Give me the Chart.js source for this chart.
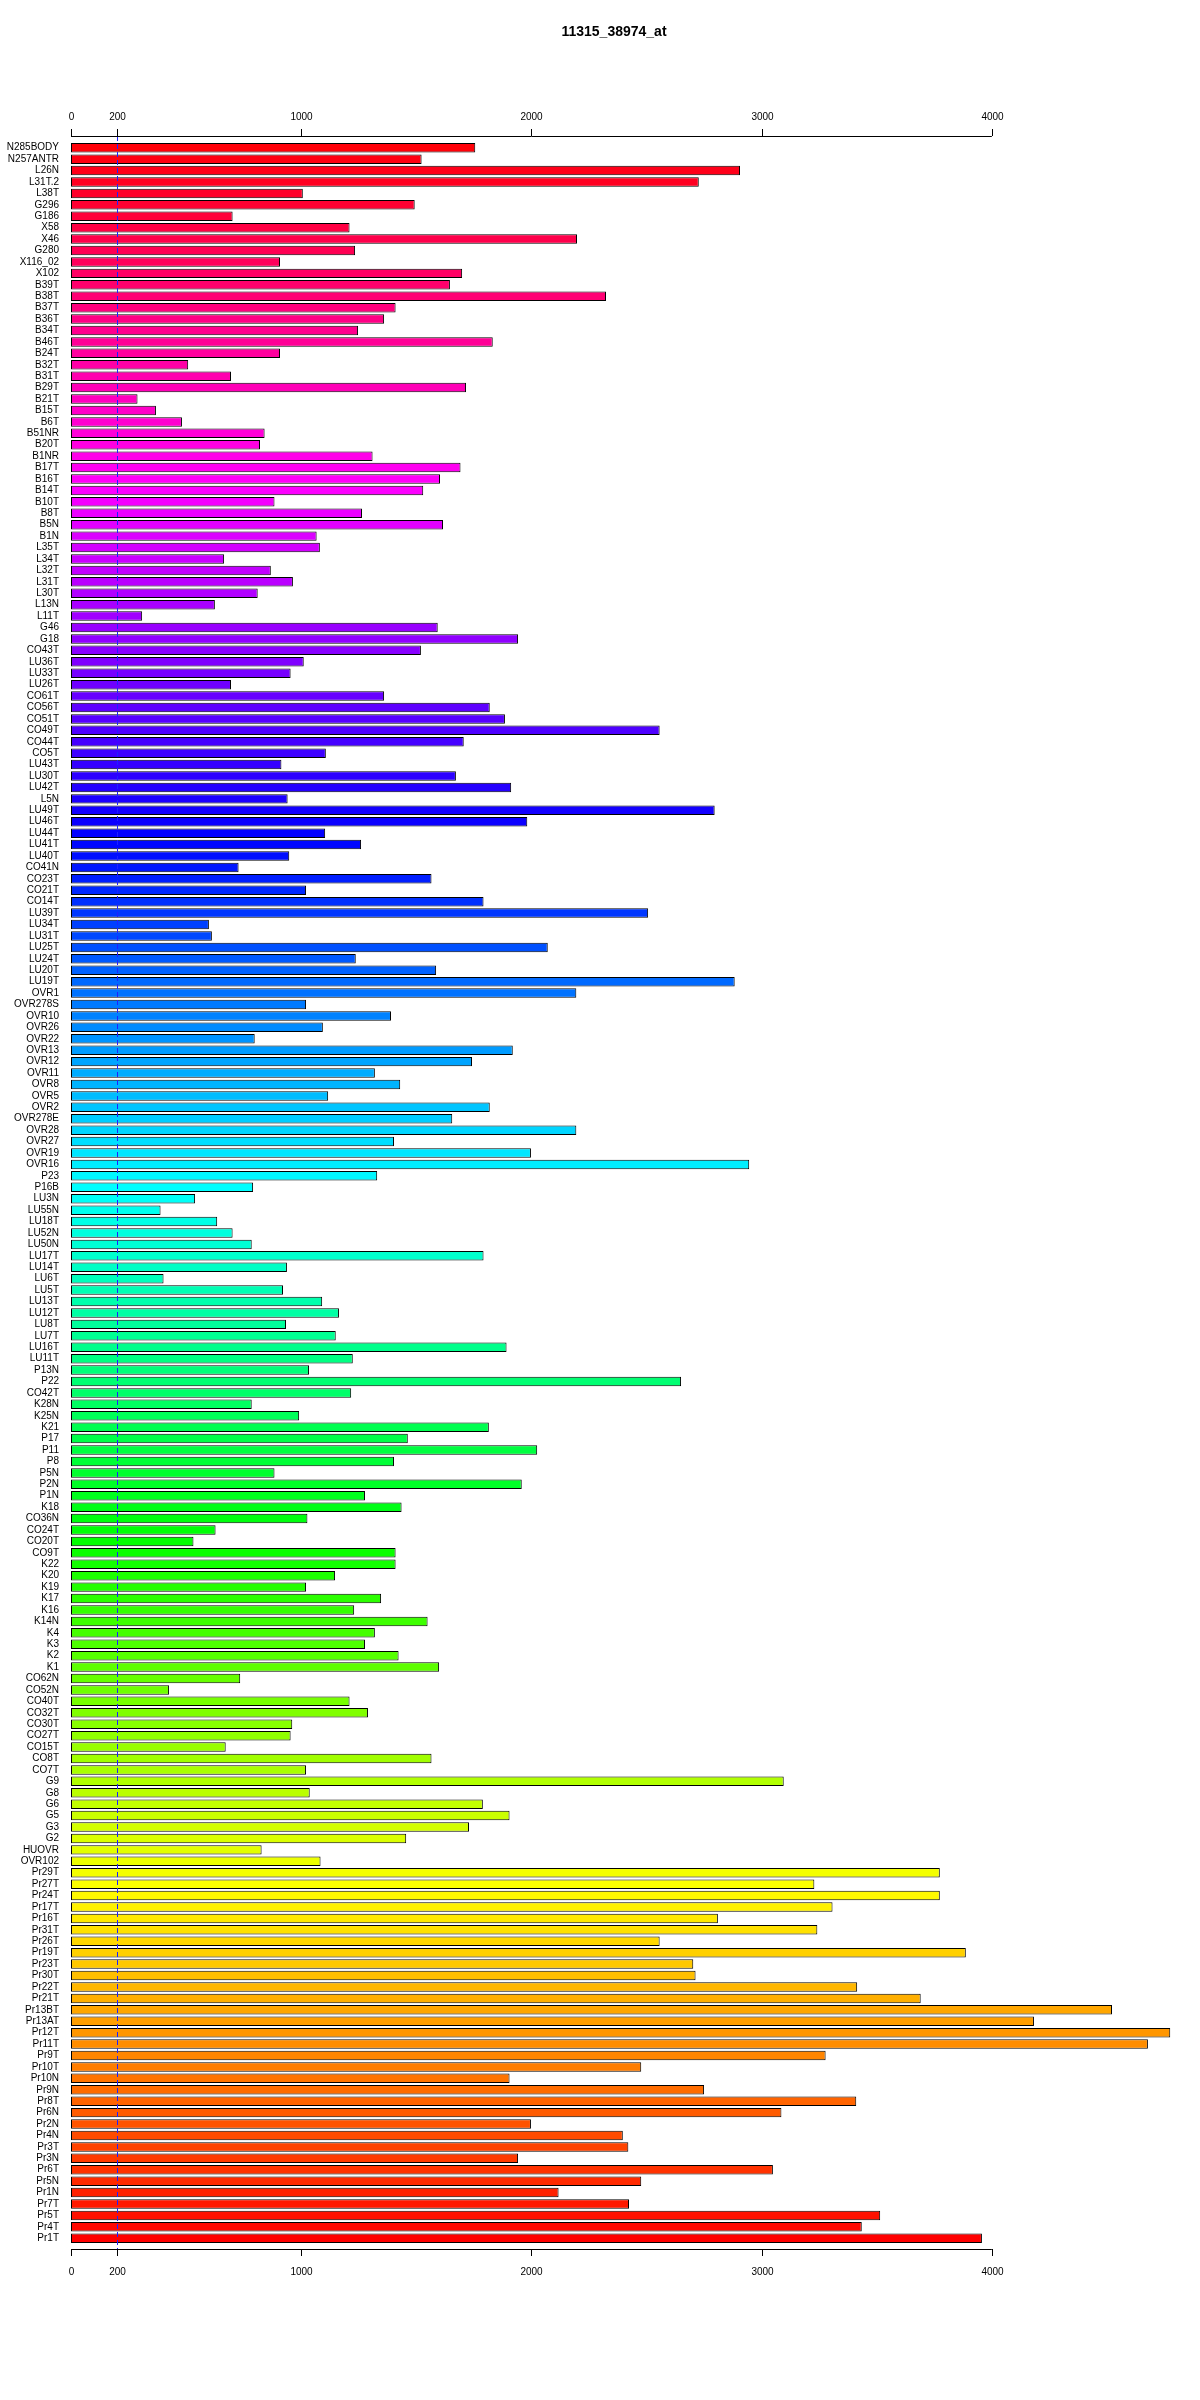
<!DOCTYPE html>
<html>
<head>
<meta charset="utf-8">
<script src="https://cdn.jsdelivr.net/npm/chart.js@4"></script>
<style>
  body { margin: 0; background: #fff; }
  #wrap { width: 1200px; height: 2400px; }
</style>
</head>
<body>
<div id="wrap"><canvas id="chart" width="1200" height="2400"></canvas></div>
<script>
const TITLE = "11315_38974_at";

const samples = [
  "N285BODY", "N257ANTR", "L26N", "L31T.2", "L38T", "G296", "G186", "X58", "X46", "G280",
  "X116_02", "X102", "B39T", "B38T", "B37T", "B36T", "B34T", "B46T", "B24T", "B32T",
  "B31T", "B29T", "B21T", "B15T", "B6T", "B51NR", "B20T", "B1NR", "B17T", "B16T",
  "B14T", "B10T", "B8T", "B5N", "B1N", "L35T", "L34T", "L32T", "L31T", "L30T",
  "L13N", "L11T", "G46", "G18", "CO43T", "LU36T", "LU33T", "LU26T", "CO61T", "CO56T",
  "CO51T", "CO49T", "CO44T", "CO5T", "LU43T", "LU30T", "LU42T", "L5N", "LU49T", "LU46T",
  "LU44T", "LU41T", "LU40T", "CO41N", "CO23T", "CO21T", "CO14T", "LU39T", "LU34T", "LU31T",
  "LU25T", "LU24T", "LU20T", "LU19T", "OVR1", "OVR278S", "OVR10", "OVR26", "OVR22", "OVR13",
  "OVR12", "OVR11", "OVR8", "OVR5", "OVR2", "OVR278E", "OVR28", "OVR27", "OVR19", "OVR16",
  "P23", "P16B", "LU3N", "LU55N", "LU18T", "LU52N", "LU50N", "LU17T", "LU14T", "LU6T",
  "LU5T", "LU13T", "LU12T", "LU8T", "LU7T", "LU16T", "LU11T", "P13N", "P22", "CO42T",
  "K28N", "K25N", "K21", "P17", "P11", "P8", "P5N", "P2N", "P1N", "K18",
  "CO36N", "CO24T", "CO20T", "CO9T", "K22", "K20", "K19", "K17", "K16", "K14N",
  "K4", "K3", "K2", "K1", "CO62N", "CO52N", "CO40T", "CO32T", "CO30T", "CO27T",
  "CO15T", "CO8T", "CO7T", "G9", "G8", "G6", "G5", "G3", "G2", "HUOVR",
  "OVR102", "Pr29T", "Pr27T", "Pr24T", "Pr17T", "Pr16T", "Pr31T", "Pr26T", "Pr19T", "Pr23T",
  "Pr30T", "Pr22T", "Pr21T", "Pr13BT", "Pr13AT", "Pr12T", "Pr11T", "Pr9T", "Pr10T", "Pr10N",
  "Pr9N", "Pr8T", "Pr6N", "Pr2N", "Pr4N", "Pr3T", "Pr3N", "Pr6T", "Pr5N", "Pr1N",
  "Pr7T", "Pr5T", "Pr4T", "Pr1T"
];

const expression = [
  1756, 1523, 2906, 2727, 1007, 1493, 702, 1210, 2198, 1234,
  908, 1699, 1646, 2324, 1410, 1360, 1247, 1832, 908, 509,
  695, 1716, 289, 369, 482, 841, 821, 1310, 1692, 1603,
  1530, 884, 1264, 1616, 1067, 1081, 665, 868, 964, 811,
  625, 309, 1593, 1942, 1520, 1011, 954, 695, 1360, 1819,
  1885, 2557, 1706, 1107, 914, 1672, 1912, 941, 2796, 1982,
  1104, 1260, 948, 728, 1566, 1021, 1792, 2507, 599, 612,
  2071, 1237, 1586, 2883, 2195, 1021, 1390, 1094, 798, 1919,
  1742, 1320, 1430, 1117, 1819, 1656, 2195, 1403, 1998, 2946,
  1330, 791, 539, 389, 635, 702, 785, 1792, 938, 402,
  921, 1091, 1164, 934, 1150, 1892, 1224, 1034, 2650, 1217,
  785, 991, 1815, 1463, 2025, 1403, 884, 1958, 1277, 1436,
  1027, 628, 532, 1410, 1410, 1147, 1021, 1347, 1230, 1549,
  1320, 1277, 1423, 1599, 735, 426, 1210, 1290, 961, 954,
  672, 1566, 1021, 3096, 1037, 1789, 1905, 1729, 1456, 828,
  1084, 3774, 3229, 3774, 3308, 2810, 3242, 2557, 3887, 2703,
  2713, 3415, 3691, 4522, 4183, 4775, 4678, 3278, 2477, 1905,
  2750, 3411, 3086, 1998, 2397, 2421, 1942, 3049, 2477, 2118,
  2424, 3515, 3435, 3957
];

const tickValues = [0, 200, 1000, 2000, 3000, 4000];
const cutoff = 200;

// rainbow, red at the bottom going round to red at the top
const n = samples.length;
const colors = samples.map((_, i) => `hsl(${((n - 1 - i) / n) * 360}, 100%, 50%)`);

const axesPlugin = {
  id: "rAxes",
  afterDatasetsDraw(chart) {
    const { ctx, chartArea, scales: { x } } = chart;
    const topY = chartArea.top - 6;
    const botY = chartArea.bottom + 5;
    const x0 = x.getPixelForValue(tickValues[0]);
    const x1 = x.getPixelForValue(tickValues[tickValues.length - 1]);

    ctx.save();
    // cutoff line
    const cx = Math.round(x.getPixelForValue(cutoff)) + 0.5;
    ctx.strokeStyle = "#2020ff";
    ctx.lineWidth = 1;
    ctx.setLineDash([5, 3]);
    ctx.beginPath();
    ctx.moveTo(cx, topY);
    ctx.lineTo(cx, botY);
    ctx.stroke();
    ctx.setLineDash([]);

    // top and bottom axes
    ctx.strokeStyle = "#000";
    ctx.fillStyle = "#000";
    ctx.font = "10px 'Liberation Sans', Arial, sans-serif";
    ctx.textAlign = "center";
    ctx.textBaseline = "middle";
    [[topY, -7, -19], [botY, 7, 23]].forEach(([y, t, lab]) => {
      ctx.beginPath();
      ctx.moveTo(x0, y + 0.5);
      ctx.lineTo(x1, y + 0.5);
      ctx.stroke();
      tickValues.forEach(v => {
        const px = Math.round(x.getPixelForValue(v)) + 0.5;
        ctx.beginPath();
        ctx.moveTo(px, y);
        ctx.lineTo(px, y + t);
        ctx.stroke();
        ctx.fillText(String(v), px, y + lab);
      });
    });

    // title
    ctx.font = "bold 14px 'Liberation Sans', Arial, sans-serif";
    ctx.fillText(TITLE, 614, 32);
    ctx.restore();
  }
};

new Chart(document.getElementById("chart"), {
  type: "bar",
  data: {
    labels: samples,
    datasets: [{
      data: expression,
      backgroundColor: colors,
      borderColor: "#000",
      borderWidth: 1,
      borderSkipped: false,
      categoryPercentage: 1,
      barPercentage: 0.83
    }]
  },
  options: {
    indexAxis: "y",
    responsive: false,
    animation: false,
    layout: { padding: { left: 0, top: 142, right: 24, bottom: 156 } },
    plugins: {
      legend: { display: false },
      tooltip: { enabled: false },
      title: { display: false }
    },
    scales: {
      x: {
        display: false,
        min: 0,
        max: 4800
      },
      y: {
        afterFit: s => { s.width = 71; },
        grid: { display: false, drawTicks: false },
        border: { display: false },
        ticks: {
          autoSkip: false,
          padding: 12,
          color: "#000",
          font: { family: "'Liberation Sans', Arial, sans-serif", size: 10 }
        }
      }
    }
  },
  plugins: [axesPlugin]
});
</script>
</body>
</html>
